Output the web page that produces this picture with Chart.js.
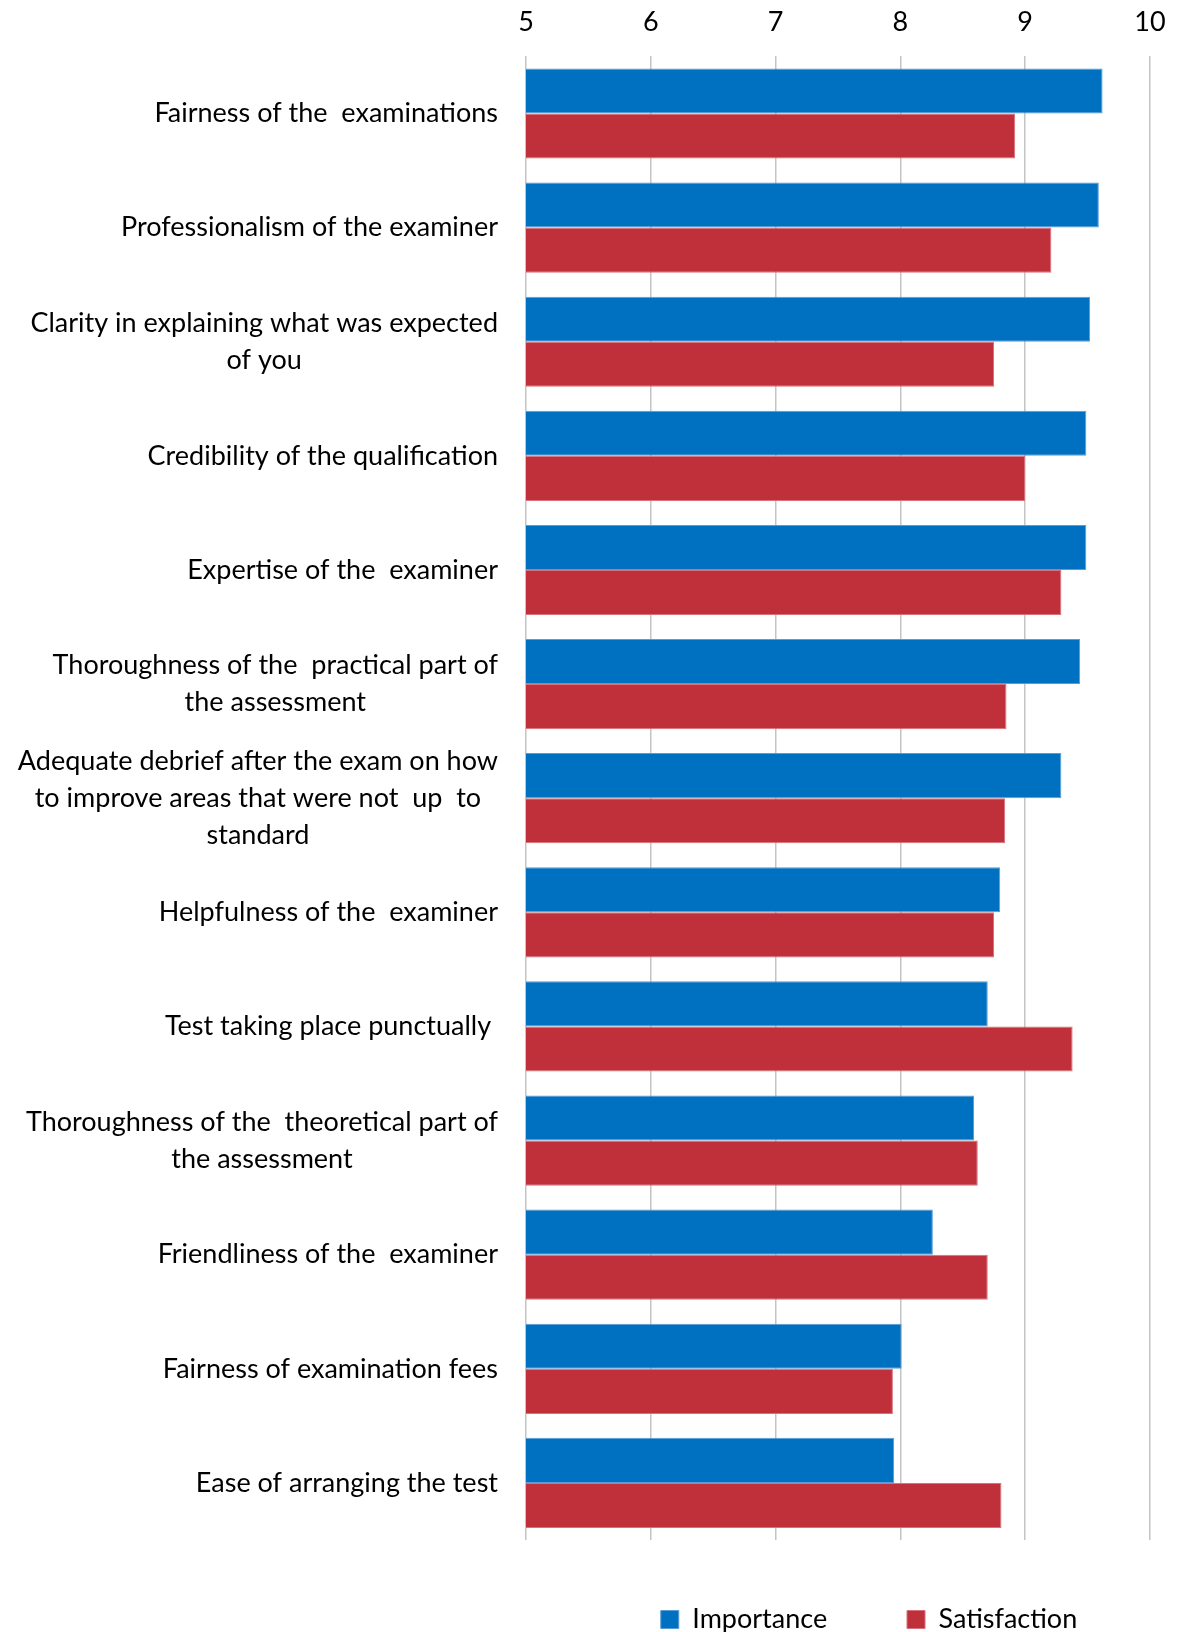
<!DOCTYPE html>
<html>
<head>
<meta charset="utf-8">
<script src="https://cdn.jsdelivr.net/npm/chart.js@4.4.1/dist/chart.umd.min.js"></script>
<style>
  html, body { margin: 0; padding: 0; background: #fff; overflow: hidden; }
  #wrap { position: relative; width: 1177px; height: 1643px; }
</style>
</head>
<body>
<div id="wrap"><canvas id="myChart"></canvas></div>
<script>
// categories, top to bottom (multi-line labels as arrays)
const categories = [
    ['Fairness of the  examinations'],
    ['Professionalism of the examiner'],
    ['Clarity in explaining what was expected', 'of you'],
    ['Credibility of the qualification'],
    ['Expertise of the  examiner'],
    ['Thoroughness of the  practical part of', 'the assessment'],
    ['Adequate debrief after the exam on how', 'to improve areas that were not  up  to', 'standard'],
    ['Helpfulness of the  examiner'],
    ['Test taking place punctually '],
    ['Thoroughness of the  theoretical part of', 'the assessment'],
    ['Friendliness of the  examiner'],
    ['Fairness of examination fees'],
    ['Ease of arranging the test']
];
const importance   = [9.62, 9.59, 9.52, 9.49, 9.49, 9.44, 9.29, 8.80, 8.70, 8.59, 8.26, 8.01, 7.95];
const satisfaction = [8.92, 9.21, 8.75, 9.00, 9.29, 8.85, 8.84, 8.75, 9.38, 8.62, 8.70, 7.94, 8.81];
const xTicks = [5, 6, 7, 8, 9, 10];

const labelFontSize = 27;
const labelLineHeight = 37;

Chart.defaults.font.family = 'Lato';
Chart.defaults.color = '#000';

// draw the category labels as centred blocks, right-aligned to the axis
const centeredLabels = {
    id: 'centeredLabels',
    afterLayout(chart) {
        // the legend sits a little right of the plot centre in the original
        chart.legend.left += 31;
        chart.legend.right += 31;
    },
    afterDraw(chart) {
        const scale = chart.scales.y;
        const ctx = chart.ctx;
        ctx.save();
        ctx.font = labelFontSize + 'px Lato';
        ctx.fillStyle = '#000';
        ctx.textAlign = 'center';
        ctx.textBaseline = 'middle';
        const right = scale.right - 28;
        categories.forEach((lines, i) => {
            const y = scale.getPixelForTick(i);
            const w = Math.max(...lines.map(l => ctx.measureText(l).width));
            const cx = right - w / 2;
            lines.forEach((line, j) => {
                ctx.fillText(line, cx, y + (j - (lines.length - 1) / 2) * labelLineHeight);
            });
        });
        ctx.restore();
    }
};

const ctx = document.getElementById('myChart').getContext('2d');
const chart = new Chart(ctx, {
    type: 'bar',
    data: {
        labels: categories,
        datasets: [{
            label: 'Importance  ',
            data: importance,
            backgroundColor: '#0070C0',
            borderColor: '#5A9BD8',
            borderWidth: 1
        }, {
            label: 'Satisfaction',
            data: satisfaction,
            backgroundColor: '#C0303B',
            borderColor: '#D9707A',
            borderWidth: 1
        }]
    },
    options: {
        indexAxis: 'y',
        responsive: true,
        maintainAspectRatio: false,
        animation: false,
        layout: {
            padding: { top: -12, right: 27, left: 0, bottom: 0 }
        },
        datasets: {
            bar: {
                barPercentage: 1.0,
                categoryPercentage: 0.79
            }
        },
        scales: {
            x: {
                position: 'top',
                min: 5,
                max: 10,
                afterBuildTicks: (scale) => {
                    scale.ticks = xTicks.map(v => ({ value: v }));
                },
                afterFit: (scale) => {
                    scale.paddingLeft = 0;
                    scale.paddingRight = 0;
                },
                grid: {
                    color: '#C4C4C4',
                    lineWidth: 1.5,
                    drawTicks: false
                },
                border: { display: false },
                ticks: {
                    padding: 18,
                    font: { size: 27 },
                    color: '#000'
                }
            },
            y: {
                grid: { display: false },
                border: { display: false },
                ticks: { display: false },
                afterFit: (scale) => {
                    scale.width = 526;
                }
            }
        },
        plugins: {
            legend: {
                position: 'bottom',
                fullSize: false,
                labels: {
                    boxWidth: 18,
                    boxHeight: 18,
                    padding: 66,
                    font: { size: 27 },
                    color: '#000'
                }
            },
            tooltip: { enabled: false }
        }
    },
    plugins: [centeredLabels]
});
</script>
</body>
</html>
